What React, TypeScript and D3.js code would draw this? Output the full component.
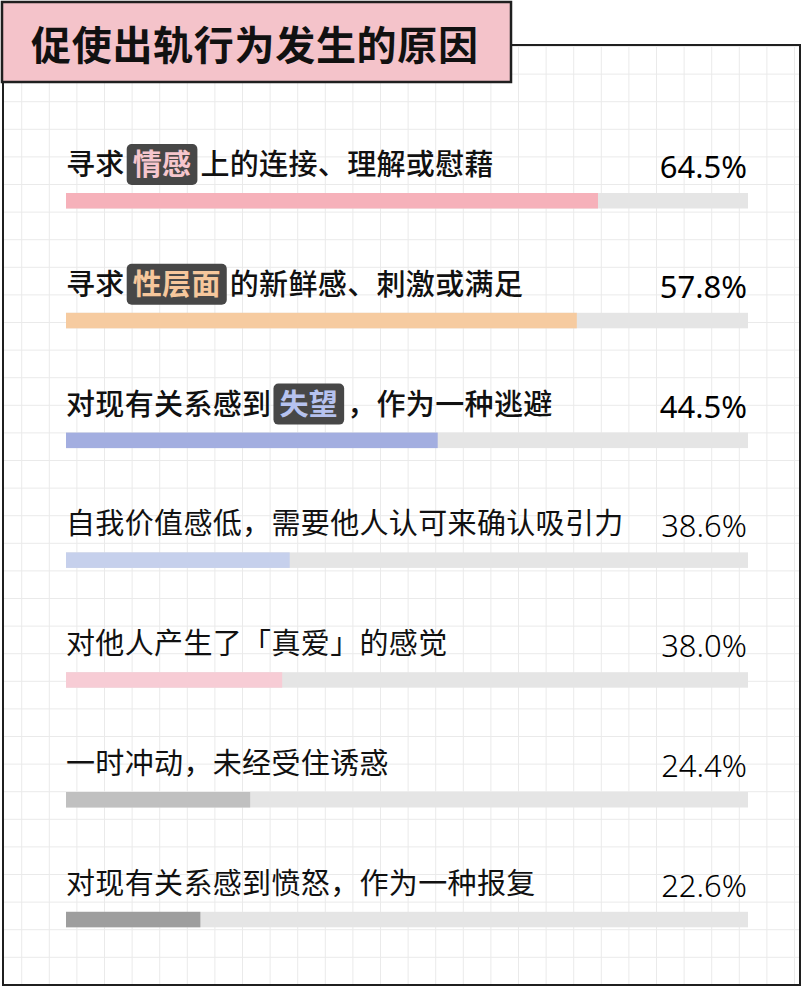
import React, { useRef, useEffect } from 'react';
import * as d3 from 'd3';

// Chart data
const chartTitle = '促使出轨行为发生的原因';

const categories = [
  '寻求情感上的连接、理解或慰藉',
  '寻求性层面的新鲜感、刺激或满足',
  '对现有关系感到失望，作为一种逃避',
  '自我价值感低，需要他人认可来确认吸引力',
  '对他人产生了「真爱」的感觉',
  '一时冲动，未经受住诱惑',
  '对现有关系感到愤怒，作为一种报复',
];

// words shown in a dark tag inside the label ('' = none)
const highlights = ['情感', '性层面', '失望', '', '', '', ''];

const percentValues = [64.5, 57.8, 44.5, 38.6, 38.0, 24.4, 22.6];

// bar fill as drawn in the picture (share of the grey track, %)
const barLengths = [78.0, 74.9, 54.5, 32.8, 31.7, 27.0, 19.7];

const barColours = ['#f6b1ba', '#f6cba0', '#a3aee0', '#c6d0ec', '#f7ccd5', '#c0c0c0', '#9e9e9e'];
const highlightColours = ['#f6c6cd', '#f6c79c', '#b6c2ef', '', '', '', ''];

const App: React.FC = () => {
  const svgRef = useRef<SVGSVGElement | null>(null);

  useEffect(() => {
    if (!svgRef.current) return;

    const width = 802;
    const height = 988;
    const cjk = '"Noto Sans CJK SC", "Noto Sans", sans-serif';
    const labelSize = 29;

    const svg = d3.select(svgRef.current);
    svg.selectAll('*').remove();

    svg.attr('width', width).attr('height', height);

    // background
    svg.append('rect').attr('width', width).attr('height', height).attr('fill', '#ffffff');

    // grid paper inside the frame
    const gridStep = 27.6;
    const gx = d3.range(21.7, 799, gridStep);
    const gy = d3.range(18.9, 984, gridStep);
    const grid = svg.append('g').attr('stroke', '#eaeaea').attr('stroke-width', 1);
    grid.selectAll('line.v')
      .data(gx)
      .enter().append('line')
      .attr('class', 'v')
      .attr('x1', d => d).attr('x2', d => d)
      .attr('y1', 46).attr('y2', 984);
    grid.selectAll('line.h')
      .data(gy.filter(d => d > 46))
      .enter().append('line')
      .attr('class', 'h')
      .attr('x1', 4).attr('x2', 799)
      .attr('y1', d => d).attr('y2', d => d);

    // outer frame
    svg.append('path')
      .attr('d', 'M511,45 H800 V985 H3 V82')
      .attr('fill', 'none')
      .attr('stroke', '#1f1f1f')
      .attr('stroke-width', 2);

    // title tag
    svg.append('rect')
      .attr('x', 2).attr('y', 2)
      .attr('width', 509).attr('height', 80)
      .attr('fill', '#f4c3ca')
      .attr('stroke', '#1f1f1f')
      .attr('stroke-width', 2.5);
    svg.append('text')
      .attr('x', 31).attr('y', 60)
      .style('font-family', cjk)
      .style('font-size', '40px')
      .style('font-weight', 700)
      .style('letter-spacing', '0.7px')
      .attr('fill', '#111')
      .text(chartTitle);

    // scales
    const x = d3.scaleLinear().domain([0, 100]).range([66, 748]);
    const y = d3.scaleBand<string>()
      .domain(categories)
      .range([133, 133 + 119.8 * categories.length])
      .paddingInner(0);
    const barHeight = 15.5;
    const barOffset = 60;

    const rows = svg.selectAll('g.row')
      .data(categories)
      .enter().append('g')
      .attr('class', 'row');

    // grey track
    rows.append('rect')
      .attr('x', x(0))
      .attr('y', d => (y(d) ?? 0) + barOffset)
      .attr('width', x(100) - x(0))
      .attr('height', barHeight)
      .attr('fill', '#e5e5e5');

    // value bar
    rows.append('rect')
      .attr('x', x(0))
      .attr('y', d => (y(d) ?? 0) + barOffset)
      .attr('width', (_, i) => x(barLengths[i]) - x(0))
      .attr('height', barHeight)
      .attr('fill', (_, i) => barColours[i]);

    // percentage on the right
    rows.append('text')
      .attr('x', 747)
      .attr('y', d => (y(d) ?? 0) + barOffset - 15)
      .attr('text-anchor', 'end')
      .style('font-family', '"Noto Sans", sans-serif')
      .style('font-size', '31px')
      .style('font-weight', (_, i) => (i < 3 ? 400 : 300))
      .attr('fill', '#000')
      .text((_, i) => `${percentValues[i].toFixed(1)}%`);

    // labels, with the dark tag for the highlighted words
    categories.forEach((cat, i) => {
      const g = svg.append('g');
      const baseline = (y(cat) ?? 0) + barOffset - 18;
      const weight = i < 3 ? 500 : 400;
      const hl = highlights[i];
      const addText = (str: string, px: number, colour: string, w: number) => {
        const t = g.append('text')
          .attr('x', px).attr('y', baseline)
          .style('font-family', cjk)
          .style('font-size', `${labelSize}px`)
          .style('font-weight', w)
          .style('letter-spacing', '0.35px')
          .attr('fill', colour)
          .text(str);
        const node = t.node();
        return node && str ? node.getComputedTextLength() : 0;
      };

      if (!hl) {
        addText(cat, 66, '#111', weight);
        return;
      }
      const idx = cat.indexOf(hl);
      const before = cat.slice(0, idx);
      const after = cat.slice(idx + hl.length);

      let cursor = 66;
      cursor += addText(before, cursor, '#111', weight);
      cursor += 2;

      const pad = 6;
      const tag = g.append('rect')
        .attr('y', baseline - 31)
        .attr('height', 41)
        .attr('rx', 5)
        .attr('fill', '#474747');
      const hlWidth = addText(hl, cursor + pad, highlightColours[i], 700);
      tag.attr('x', cursor).attr('width', hlWidth + pad * 2);
      cursor += hlWidth + pad * 2 + 3;

      addText(after, cursor, '#111', weight);
    });
  }, []);

  return (
    <div style={{ position: 'absolute', left: 0, top: 0 }}>
      <svg ref={svgRef} style={{ display: 'block' }} />
    </div>
  );
};

export default App;
